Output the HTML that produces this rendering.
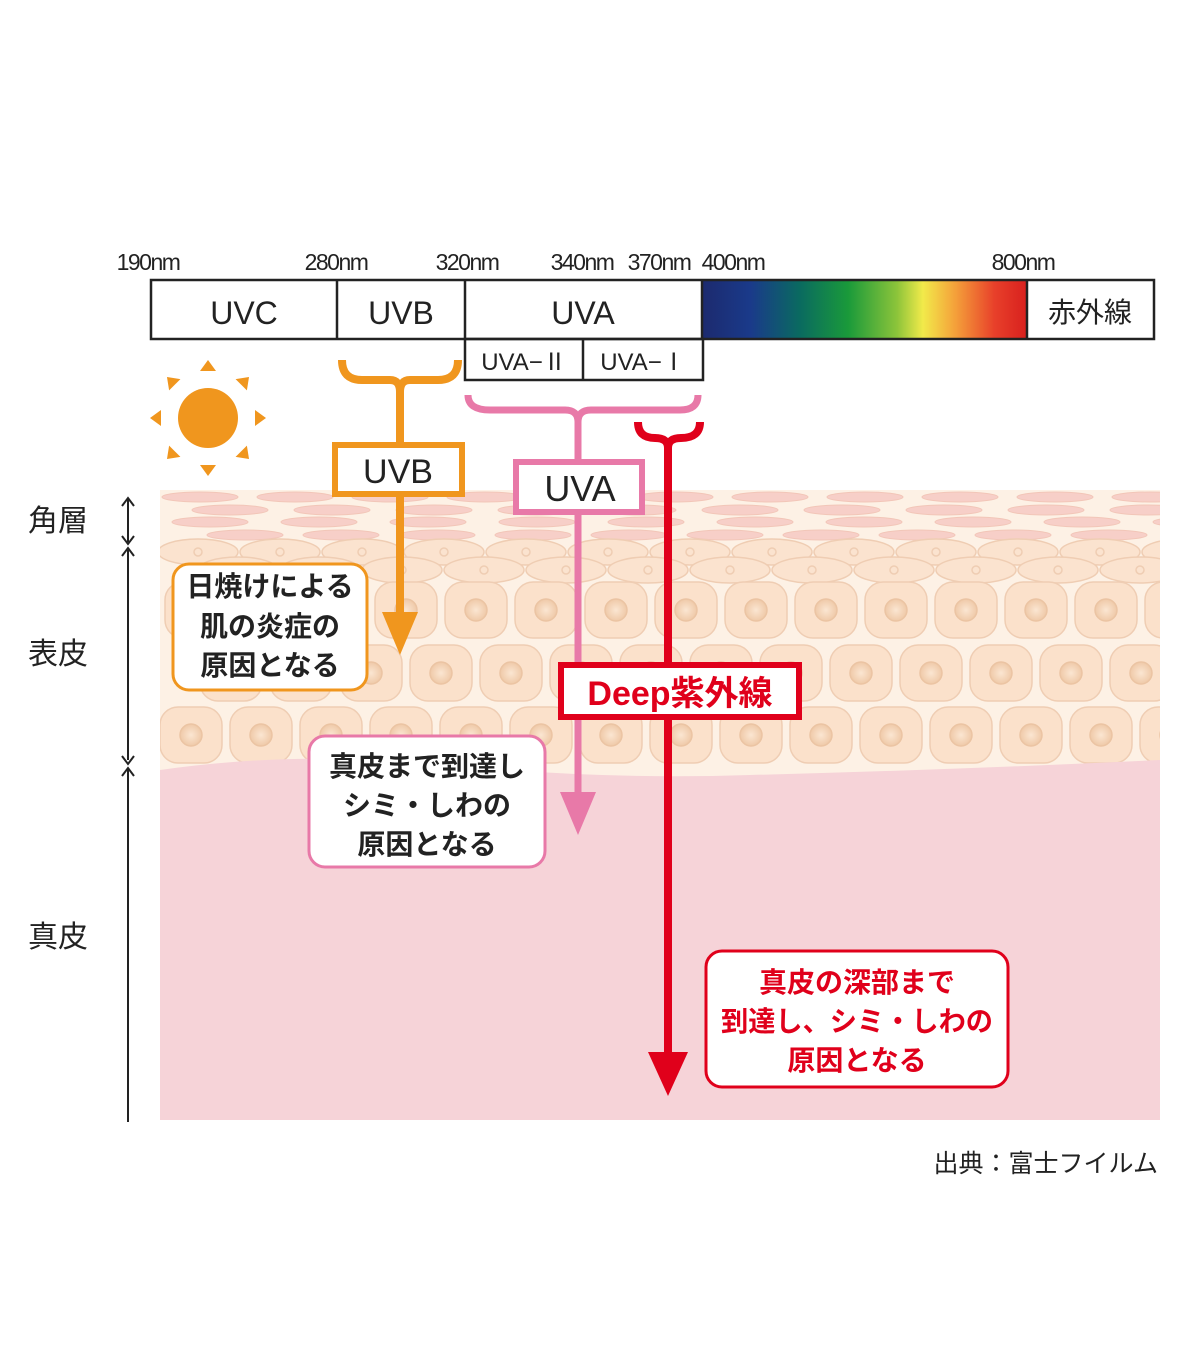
<!DOCTYPE html>
<html><head><meta charset="utf-8"><style>
html,body{margin:0;padding:0;background:#fff;width:1200px;height:1350px;overflow:hidden}
svg text{font-family:"Liberation Sans","Noto Sans CJK JP",sans-serif}
</style></head><body>
<svg id="s" width="1200" height="1350" viewBox="0 0 1200 1350" xmlns="http://www.w3.org/2000/svg">
<defs>
<linearGradient id="spec" x1="0" x2="1" y1="0" y2="0">
<stop offset="0" stop-color="#1c2a6e"/><stop offset="0.15" stop-color="#1a3a8a"/>
<stop offset="0.3" stop-color="#0a6a60"/><stop offset="0.45" stop-color="#1a9a3a"/>
<stop offset="0.6" stop-color="#8cc43a"/><stop offset="0.68" stop-color="#f2ea4a"/>
<stop offset="0.78" stop-color="#f4a03a"/><stop offset="0.9" stop-color="#e8402a"/>
<stop offset="1" stop-color="#d8201e"/></linearGradient>
<radialGradient id="nuc"><stop offset="0" stop-color="#fbe6d2"/><stop offset="1" stop-color="#efc9a8"/></radialGradient>
<clipPath id="skin"><rect x="160" y="488" width="1000" height="634"/></clipPath>
</defs>
<rect x="160" y="490" width="1000" height="630" fill="#fdf1e5"/>
<g id="cells" clip-path="url(#skin)"></g>
<path d="M160 770 Q300 750 450 765 Q600 780 750 775 Q950 770 1160 760 L1160 1120 L160 1120 Z" fill="#f6d3d8"/>
<g stroke="#222" stroke-width="2" fill="none">
<line x1="128" y1="498" x2="128" y2="542"/><line x1="128" y1="550" x2="128" y2="760"/><line x1="128" y1="768" x2="128" y2="1122"/>
<path d="M122 506 L128 498 L134 506 M122 536 L128 544 L134 536 M122 556 L128 548 L134 556 M122 756 L128 764 L134 756 M122 776 L128 768 L134 776"/>
</g>
<g font-size="30" fill="#222">
<text x="28" y="531">角層</text><text x="28" y="664">表皮</text><text x="28" y="947">真皮</text>
</g>
<g font-size="23" fill="#222" text-anchor="middle" letter-spacing="-1.5">
<text x="148" y="270">190nm</text><text x="336" y="270">280nm</text><text x="467" y="270">320nm</text>
<text x="582" y="270">340nm</text><text x="659" y="270">370nm</text><text x="733" y="270">400nm</text><text x="1023" y="270">800nm</text>
</g>
<rect x="702" y="280" width="325" height="59" fill="url(#spec)"/>
<g fill="none" stroke="#222" stroke-width="2.5">
<rect x="151" y="280" width="1003" height="59"/>
<line x1="337" y1="280" x2="337" y2="339"/><line x1="465" y1="280" x2="465" y2="339"/><line x1="702" y1="280" x2="702" y2="339"/><line x1="1027" y1="280" x2="1027" y2="339"/>
<rect x="465" y="339" width="238" height="41"/><line x1="583" y1="339" x2="583" y2="380"/>
</g>
<g font-size="32" fill="#222" text-anchor="middle">
<text x="244" y="324">UVC</text><text x="401" y="324">UVB</text><text x="583" y="324">UVA</text>
<text x="1090" y="322" font-size="28">赤外線</text>
<text x="524" y="370" font-size="24">UVA−Ⅱ</text><text x="643" y="370" font-size="24">UVA−Ⅰ</text>
</g>
<g fill="#f0961e"><circle cx="208" cy="418" r="30"/>
<g id="rays"></g></g>
<g fill="none" stroke="#f0961e" stroke-width="8">
<path d="M342 360 Q342 380 362 380 L390 380 Q400 380 400 392 Q400 380 410 380 L438 380 Q458 380 458 360"/>
<line x1="400" y1="390" x2="400" y2="615"/>
</g>
<polygon points="382,612 418,612 400,655" fill="#f0961e"/>
<rect x="335" y="445" width="127" height="49" fill="#fff" stroke="#f0961e" stroke-width="6"/>
<text x="398" y="483" font-size="34" fill="#222" text-anchor="middle">UVB</text>
<g fill="none" stroke="#e879a8" stroke-width="7">
<path d="M468 395 Q468 410 490 410 L565 410 Q578 410 578 422 Q578 410 591 410 L680 410 Q698 410 698 395"/>
<line x1="578" y1="420" x2="578" y2="795"/>
</g>
<polygon points="560,792 596,792 578,835" fill="#e879a8"/>
<rect x="516" y="462" width="126" height="50" fill="#fff" stroke="#e879a8" stroke-width="6"/>
<text x="580" y="501" font-size="36" fill="#222" text-anchor="middle">UVA</text>
<g fill="none" stroke="#e0001b" stroke-width="8">
<path d="M638 422 Q638 438 655 438 Q668 438 668 448 Q668 438 681 438 Q700 438 700 422"/>
<line x1="668" y1="445" x2="668" y2="1055"/>
</g>
<polygon points="648,1052 688,1052 668,1096" fill="#e0001b"/>
<rect x="561" y="665" width="238" height="52" fill="#fff" stroke="#e0001b" stroke-width="6"/>
<text x="680" y="705" font-size="34" font-weight="bold" fill="#e0001b" text-anchor="middle">Deep紫外線</text>
<rect x="173" y="564" width="194" height="126" rx="16" fill="#fff" stroke="#f0961e" stroke-width="3"/>
<g font-size="28" fill="#222" text-anchor="middle" font-weight="bold">
<text x="270" y="596">日焼けによる</text><text x="270" y="636">肌の炎症の</text><text x="270" y="675">原因となる</text>
</g>
<rect x="309" y="736" width="236" height="131" rx="16" fill="#fff" stroke="#e879a8" stroke-width="3"/>
<g font-size="28" fill="#222" text-anchor="middle" font-weight="bold">
<text x="427" y="776">真皮まで到達し</text><text x="427" y="815">シミ・しわの</text><text x="427" y="854">原因となる</text>
</g>
<rect x="706" y="951" width="302" height="136" rx="16" fill="#fff" stroke="#e0001b" stroke-width="3"/>
<g font-size="28" fill="#e0001b" text-anchor="middle" font-weight="bold">
<text x="857" y="992">真皮の深部まで</text><text x="857" y="1031" textLength="272" lengthAdjust="spacingAndGlyphs">到達し、シミ・しわの</text><text x="857" y="1070">原因となる</text>
</g>
<text x="1158" y="1172" font-size="25" fill="#222" text-anchor="end">出典：富士フイルム</text>
<script>
(function(){
var ns="http://www.w3.org/2000/svg",g=document.getElementById("cells");
function el(t,a){var e=document.createElementNS(ns,t);for(var k in a)e.setAttribute(k,a[k]);g.appendChild(e);return e;}
var x,i;
var rows=[[497,0],[510,30],[522,10],[535,45]];
rows.forEach(function(r,ri){for(x=165+r[1];x<1160;x+=95+(ri*7)%20){el("ellipse",{cx:x+35,cy:r[0],rx:38,ry:5,fill:"#f7cfc8",stroke:"#f2c6b8","stroke-width":1});}});
[[552,0],[570,40]].forEach(function(r){for(x=160+r[1];x<1160;x+=82){el("ellipse",{cx:x+38,cy:r[0],rx:40,ry:13,fill:"#fbe3cf",stroke:"#efcdb3","stroke-width":1.5});el("circle",{cx:x+38,cy:r[0],r:4,fill:"none",stroke:"#efcdb3","stroke-width":1.5});}});
[[582,165],[645,200],[707,160]].forEach(function(r){for(x=r[1];x<1160;x+=70){el("rect",{x:x,y:r[0],width:62,height:56,rx:18,fill:"#fbe1cb",stroke:"#efcdb3","stroke-width":1.5});el("circle",{cx:x+31,cy:r[0]+28,r:11,fill:"url(#nuc)",stroke:"#ebc4a3","stroke-width":1.5});}});
var rg=document.getElementById("rays");
for(i=0;i<8;i++){var a=i*Math.PI/4,cx=208+Math.sin(a)*47,cy=418-Math.cos(a)*47;var p=document.createElementNS(ns,"polygon");
var tx=208+Math.sin(a)*58,ty=418-Math.cos(a)*58,px=Math.cos(a)*8,py=Math.sin(a)*8;
p.setAttribute("points",(cx+px)+","+(cy+py)+" "+(cx-px)+","+(cy-py)+" "+tx+","+ty);rg.appendChild(p);}
})();
</script>
</svg>
</body></html>
